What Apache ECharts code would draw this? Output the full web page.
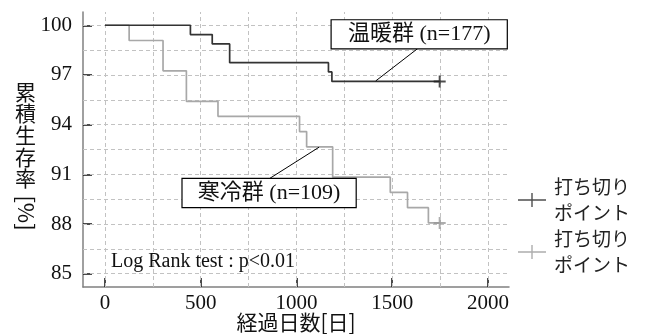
<!DOCTYPE html>
<html><head><meta charset="utf-8">
<script src="https://cdn.jsdelivr.net/npm/echarts@6/dist/echarts.min.js"></script>
<style>html,body{margin:0;padding:0;background:#fff}#c{width:651px;height:336px}</style>
</head><body><div id="c"></div>
<script>
const warmDays = [0, 446, 560, 651, 1167, 1185, 1748];
const warmSurv = [100, 99.44, 98.87, 97.74, 97.18, 96.61, 96.61];
const coldDays = [0, 126, 303, 425, 590, 1016, 1053, 1189, 1490, 1580, 1689, 1748];
const coldSurv = [100, 99.08, 97.25, 95.41, 94.50, 93.58, 92.66, 90.83, 89.91, 88.99, 88.07, 88.07];
const warmCensor = [[1748, 96.61]];
const coldCensor = [[1748, 88.07]];
const xTicks = [0, 500, 1000, 1500, 2000];
const yTicks = [85, 88, 91, 94, 97, 100];
const xGrid = [0, 250, 500, 750, 1000, 1250, 1500, 1750, 2000];
const yGrid = [85, 86.5, 88, 89.5, 91, 92.5, 94, 95.5, 97, 98.5, 100];
const warmLabel = '温暖群 (n=177)';
const coldLabel = '寒冷群 (n=109)';
const testLabel = 'Log Rank test : p<0.01';
const censorLabel = '打ち切り\nポイント';
const xName = '経過日数[日]';
const yNameMain = '累\n積\n生\n存\n率';
const yNameUnit = '[%]';

// annotation anchors (data coordinates)
const warmBoxAt = [1641, 99.45];
const coldBoxAt = [857, 89.87];
const warmLeader = [[1635, 98.61], [1414, 96.64]];
const coldLeader = [[857, 90.73], [1118, 92.64]];
const testAt = [31, 85.7];

const SERIF = '"Liberation Serif", "Times New Roman", "Noto Sans CJK JP", serif';
const CJK = '"Noto Sans CJK JP", sans-serif';
const plusSym = 'path://M0,5H12V7H0Z M5,0H7V12H5Z';
const plusIcon = 'path://M0,6.3H28V7.7H0Z M13.3,0H14.7V14H13.3Z';

const zip = (a, b) => a.map((v, i) => [v, b[i]]);
const boxLabel = (text, w) => ({
  show: true, position: 'inside', formatter: text, fontFamily: SERIF, fontSize: 22, lineHeight: 23,
  color: '#111', backgroundColor: '#fff', borderColor: '#000', borderWidth: 1.2,
  width: w, align: 'center', padding: [3, 0, 2, 0]
});
const chart = echarts.init(document.getElementById('c'), null, {renderer: 'canvas'});
chart.setOption({
  animation: false,
  grid: {left: 83, right: 142, top: 12, bottom: 49, containLabel: false, outerBoundsMode: 'none'},
  xAxis: {
    type: 'value', min: -115, max: 2110,
    name: xName, nameLocation: 'middle', nameGap: 25, nameMoveOverlap: false,
    nameTextStyle: {fontFamily: CJK, fontSize: 21, color: '#111', verticalAlign: 'top'},
    axisLine: {show: true, onZero: false, lineStyle: {color: '#808080', width: 1.5}},
    axisTick: {show: true, inside: true, length: 9, customValues: xTicks, lineStyle: {color: '#111', width: 1.5}},
    axisLabel: {customValues: xTicks, margin: 6, fontFamily: SERIF, fontSize: 21, color: '#111', formatter: v => String(v)},
    splitLine: {show: false}
  },
  yAxis: {
    type: 'value', min: 84.2, max: 100.8,
    axisLine: {show: true, onZero: false, lineStyle: {color: '#808080', width: 1.5}},
    axisTick: {show: true, inside: true, length: 9, customValues: yTicks, lineStyle: {color: '#111', width: 1.5}},
    axisLabel: {customValues: yTicks, margin: 11, fontFamily: SERIF, fontSize: 21, color: '#111', formatter: v => String(v)},
    splitLine: {show: false}
  },
  legend: {
    orient: 'vertical', left: 513, top: 169, itemWidth: 28, itemHeight: 14, itemGap: 0,
    selectedMode: false,
    data: [{name: 'censorWarm', icon: plusIcon}, {name: 'censorCold', icon: plusIcon}],
    formatter: () => censorLabel,
    textStyle: {fontFamily: CJK, fontSize: 19, lineHeight: 26, color: '#222', padding: [0, 0, 0, 3]}
  },
  graphic: [
    {type: 'text', left: 15, top: 81, style: {text: yNameMain, font: '21px ' + CJK, lineHeight: 21.6, fill: '#111'}},
    {type: 'text', x: 26, y: 213, rotation: -Math.PI / 2,
     style: {text: yNameUnit, font: '22px ' + CJK, fill: '#111', align: 'center', verticalAlign: 'middle', textAlign: 'center', textVerticalAlign: 'middle'}}
  ],
  series: [
    {
      name: 'grid', type: 'line', data: [], z: 1, silent: true,
      markLine: {
        z: 1, silent: true, symbol: 'none', animation: false, label: {show: false},
        lineStyle: {type: [4, 3], color: '#c2c2c2', width: 1},
        emphasis: {disabled: true},
        data: [...xGrid.map(v => ({xAxis: v})), ...yGrid.map(v => ({yAxis: v}))]
      }
    },
    {
      name: 'cold', type: 'line', step: 'end', showSymbol: false, silent: true, z: 3,
      data: zip(coldDays, coldSurv),
      lineStyle: {color: '#a8a8a8', width: 1.7}, itemStyle: {color: '#a8a8a8'},
      markLine: {
        z: 6, silent: true, symbol: 'none', label: {show: false}, emphasis: {disabled: true},
        lineStyle: {type: 'solid', color: '#000', width: 1},
        data: [[{coord: coldLeader[0]}, {coord: coldLeader[1]}]]
      },
      markPoint: {
        z: 7, silent: true,
        data: [{
          coord: coldBoxAt, symbol: 'circle', symbolSize: 0, label: boxLabel(coldLabel, 173)
        }, {
          coord: testAt, symbol: 'circle', symbolSize: 0,
          label: {show: true, position: 'right', distance: 0, formatter: testLabel, fontFamily: SERIF, fontSize: 20, color: '#111'}
        }]
      }
    },
    {
      name: 'warm', type: 'line', step: 'end', showSymbol: false, silent: true, z: 4,
      data: zip(warmDays, warmSurv),
      lineStyle: {color: '#333', width: 1.7}, itemStyle: {color: '#333'},
      markLine: {
        z: 6, silent: true, symbol: 'none', label: {show: false}, emphasis: {disabled: true},
        lineStyle: {type: 'solid', color: '#000', width: 1},
        data: [[{coord: warmLeader[0]}, {coord: warmLeader[1]}]]
      },
      markPoint: {
        z: 7, silent: true,
        data: [{coord: warmBoxAt, symbol: 'circle', symbolSize: 0, label: boxLabel(warmLabel, 175)}]
      }
    },
    {
      name: 'censorCold', type: 'scatter', data: coldCensor, z: 5, silent: true,
      symbol: plusSym, symbolSize: 12, itemStyle: {color: '#999'}
    },
    {
      name: 'censorWarm', type: 'scatter', data: warmCensor, z: 5, silent: true,
      symbol: plusSym, symbolSize: 12, itemStyle: {color: '#222'}
    }
  ]
});
</script>
</body></html>
